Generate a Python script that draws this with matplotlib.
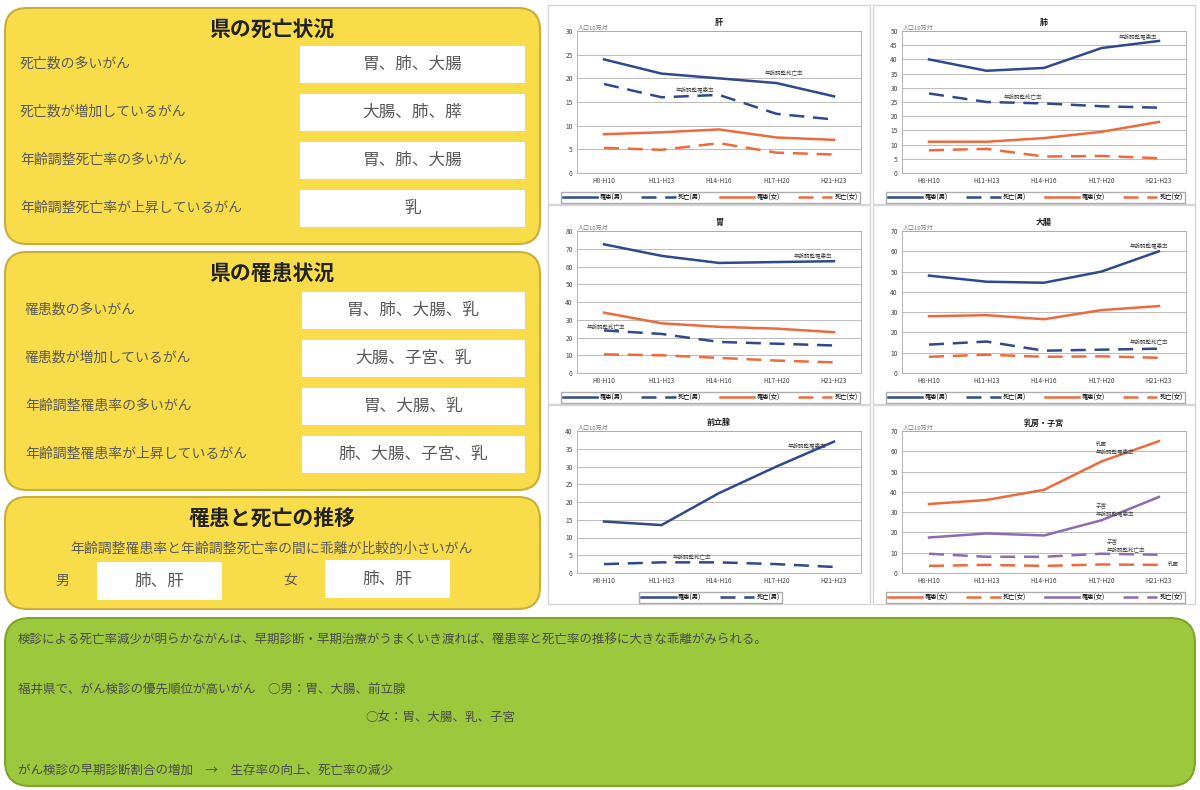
import matplotlib
matplotlib.use('Agg')
import matplotlib.pyplot as plt
from matplotlib.patches import FancyBboxPatch, Rectangle

plt.rcParams['font.family'] = ['Noto Sans CJK JP', 'DejaVu Sans']

# ---- data ----
periods = ['H8-H10', 'H11-H13', 'H14-H16', 'H17-H20', 'H21-H23']

liver_inc_m = [24, 21, 20, 19, 16.2]
liver_death_m = [18.8, 16, 16.5, 12.5, 11.3]
liver_inc_f = [8.2, 8.6, 9.2, 7.5, 7.0]
liver_death_f = [5.3, 4.9, 6.3, 4.3, 3.9]

lung_inc_m = [40, 36, 37, 44, 46.5]
lung_death_m = [28, 25, 24.5, 23.5, 23]
lung_inc_f = [11, 11, 12.3, 14.5, 18]
lung_death_f = [8, 8.5, 5.8, 6, 5.2]

stomach_inc_m = [72.5, 66, 62, 62.5, 63]
stomach_death_m = [24, 22, 17.5, 16.5, 15.5]
stomach_inc_f = [34, 28, 26, 25, 23]
stomach_death_f = [10.5, 10, 8.5, 7, 6]

colon_inc_m = [48, 45, 44.5, 50, 60]
colon_death_m = [14, 15.5, 11, 11.5, 12]
colon_inc_f = [28, 28.5, 26.5, 31, 33]
colon_death_f = [8, 9, 8, 8.2, 7.5]

prostate_inc_m = [14.5, 13.5, 22.5, 30, 37]
prostate_death_m = [2.5, 3, 3, 2.5, 1.7]

breast_inc_f = [34, 36, 41, 55, 65]
breast_death_f = [3.5, 4, 3.5, 4.2, 4]
uterus_inc_f = [17.5, 19.5, 18.5, 26, 37.5]
uterus_death_f = [9.5, 8, 8, 9.5, 9]

death_rows = [('死亡数の多いがん', '胃、肺、大腸'),
              ('死亡数が増加しているがん', '大腸、肺、膵'),
              ('年齢調整死亡率の多いがん', '胃、肺、大腸'),
              ('年齢調整死亡率が上昇しているがん', '乳')]
inc_rows = [('罹患数の多いがん', '胃、肺、大腸、乳'),
            ('罹患数が増加しているがん', '大腸、子宮、乳'),
            ('年齢調整罹患率の多いがん', '胃、大腸、乳'),
            ('年齢調整罹患率が上昇しているがん', '肺、大腸、子宮、乳')]

BLUE = '#2E4A8C'
ORANGE = '#EE6A3C'
PURPLE = '#8C6BB0'
YELLOW = '#F9DC4A'
YELLOW_EDGE = '#C9AE3A'
GREEN = '#9CC83E'
GREEN_EDGE = '#7FA42C'
TXT = '#5a5a5a'


def rounded(ax, x, y, w, h, fc, ec, r=22):
    ax.add_patch(FancyBboxPatch((x, y), w, h,
                                boxstyle=f'round,pad=0,rounding_size={r}',
                                fc=fc, ec=ec, lw=1.5))


def white_box(ax, x, y, w, h, text, size=12):
    ax.add_patch(Rectangle((x, y), w, h, fc='white', ec='none'))
    ax.text(x + w / 2, y + h / 2, text, ha='center', va='center',
            fontsize=size, color='#5a5a5a')


def draw_chart(fig, px, py, title, ymax, ystep, series, notes):
    W, H = 1200, 790
    left, right, top, bottom = px + 29, px + 313, py + 26, py + 168
    ax = fig.add_axes([left / W, 1 - bottom / H, (right - left) / W, (bottom - top) / H])
    x = list(range(len(periods)))
    for vals, color, ls, label in series:
        if ls == '--':
            ax.plot(x, vals, color=color, lw=1.8, dashes=(6, 3.5), label=label)
        else:
            ax.plot(x, vals, color=color, lw=1.8, label=label)
    ax.set_xlim(-0.47, 4.47)
    ax.set_ylim(0, ymax)
    ax.set_yticks(range(0, ymax + 1, ystep))
    ax.set_xticks(x)
    ax.set_xticklabels(periods)
    ax.tick_params(labelsize=4.8, length=0, colors='#444444', pad=3)
    ax.yaxis.grid(True, color='#BBBBBB', lw=0.7)
    ax.set_axisbelow(True)
    for s in ax.spines.values():
        s.set_color('#AAAAAA')
        s.set_linewidth(0.6)
    ax.set_title(title, fontsize=5.8, fontweight='bold', pad=4, color='#222222')
    ax.text(-0.45, ymax * 1.0, '人口10万対', fontsize=4.3, color='#777777', va='bottom')
    for nx, ny, txt in notes:
        ax.text(nx, ny, txt, fontsize=4, color='#444444', va='center', linespacing=1.4)
    ax.legend(loc='upper center', bbox_to_anchor=(0.47, -0.11), ncol=len(series),
              fontsize=4.5, frameon=True, fancybox=False, edgecolor='#999999',
              handlelength=5.5, columnspacing=2.9, borderpad=0.3, handletextpad=0.4)


fig = plt.figure(figsize=(12, 7.9), dpi=100)
bg = fig.add_axes([0, 0, 1, 1])
bg.set_xlim(0, 1200)
bg.set_ylim(790, 0)
bg.axis('off')

# ---- left column: yellow summary boxes ----
rounded(bg, 5, 8, 535, 236, YELLOW, YELLOW_EDGE)
bg.text(272, 30, '県の死亡状況', ha='center', va='center', fontsize=15, fontweight='bold', color='#222222')
for i, (lab, val) in enumerate(death_rows):
    yc = 64 + i * 48
    bg.text(20, yc, lab, ha='left', va='center', fontsize=10, color=TXT)
    white_box(bg, 300, yc - 18, 225, 37, val)

rounded(bg, 5, 252, 535, 238, YELLOW, YELLOW_EDGE)
bg.text(272, 273, '県の罹患状況', ha='center', va='center', fontsize=15, fontweight='bold', color='#222222')
for i, (lab, val) in enumerate(inc_rows):
    yc = 310 + i * 48
    bg.text(25, yc, lab, ha='left', va='center', fontsize=10, color=TXT)
    white_box(bg, 302, yc - 18, 223, 37, val)

rounded(bg, 5, 497, 535, 112, YELLOW, YELLOW_EDGE)
bg.text(272, 518, '罹患と死亡の推移', ha='center', va='center', fontsize=15, fontweight='bold', color='#222222')
bg.text(272, 549, '年齢調整罹患率と年齢調整死亡率の間に乖離が比較的小さいがん',
        ha='center', va='center', fontsize=10, color=TXT)
bg.text(62, 581, '男', ha='center', va='center', fontsize=10, color=TXT)
white_box(bg, 97, 562, 125, 38, '肺、肝')
bg.text(290, 580, '女', ha='center', va='center', fontsize=10, color=TXT)
white_box(bg, 325, 560, 125, 38, '肺、肝')

# ---- bottom green box ----
rounded(bg, 5, 618, 1190, 168, GREEN, GREEN_EDGE, r=25)
bg.text(18, 640, '検診による死亡率減少が明らかながんは、早期診断・早期治療がうまくいき渡れば、罹患率と死亡率の推移に大きな乖離がみられる。',
        ha='left', va='center', fontsize=9, color='#4a4a4a')
bg.text(18, 690, '福井県で、がん検診の優先順位が高いがん　○男：胃、大腸、前立腺',
        ha='left', va='center', fontsize=9, color='#4a4a4a')
bg.text(365, 718, '○女：胃、大腸、乳、子宮', ha='left', va='center', fontsize=9, color='#4a4a4a')
bg.text(18, 770, 'がん検診の早期診断割合の増加　→　生存率の向上、死亡率の減少',
        ha='left', va='center', fontsize=9, color='#4a4a4a')

# ---- chart panels ----
for px, py in [(548, 5), (873, 5), (548, 205), (873, 205), (548, 405), (873, 405)]:
    bg.add_patch(Rectangle((px, py), 322, 199, fc='white', ec='#D5D5D5', lw=1))

mf = ['罹患(男)', '死亡(男)', '罹患(女)', '死亡(女)']

draw_chart(fig, 548, 5, '肝', 30, 5,
           [(liver_inc_m, BLUE, '-', mf[0]), (liver_death_m, BLUE, '--', mf[1]),
            (liver_inc_f, ORANGE, '-', mf[2]), (liver_death_f, ORANGE, '--', mf[3])],
           [(2.8, 21.3, '年齢調整死亡率'), (1.25, 17.6, '年齢調整罹患率')])

draw_chart(fig, 873, 5, '肺', 50, 5,
           [(lung_inc_m, BLUE, '-', mf[0]), (lung_death_m, BLUE, '--', mf[1]),
            (lung_inc_f, ORANGE, '-', mf[2]), (lung_death_f, ORANGE, '--', mf[3])],
           [(3.3, 48, '年齢調整罹患率'), (1.3, 27, '年齢調整死亡率')])

draw_chart(fig, 548, 205, '胃', 80, 10,
           [(stomach_inc_m, BLUE, '-', mf[0]), (stomach_death_m, BLUE, '--', mf[1]),
            (stomach_inc_f, ORANGE, '-', mf[2]), (stomach_death_f, ORANGE, '--', mf[3])],
           [(3.3, 66, '年齢調整罹患率'), (-0.3, 26.5, '年齢調整死亡率')])

draw_chart(fig, 873, 205, '大腸', 70, 10,
           [(colon_inc_m, BLUE, '-', mf[0]), (colon_death_m, BLUE, '--', mf[1]),
            (colon_inc_f, ORANGE, '-', mf[2]), (colon_death_f, ORANGE, '--', mf[3])],
           [(3.5, 63, '年齢調整罹患率'), (3.5, 15.5, '年齢調整死亡率')])

draw_chart(fig, 548, 405, '前立腺', 40, 5,
           [(prostate_inc_m, BLUE, '-', mf[0]), (prostate_death_m, BLUE, '--', mf[1])],
           [(3.2, 36, '年齢調整罹患率'), (1.2, 4.8, '年齢調整死亡率')])

draw_chart(fig, 873, 405, '乳房・子宮', 70, 10,
           [(breast_inc_f, ORANGE, '-', mf[2]), (breast_death_f, ORANGE, '--', mf[3]),
            (uterus_inc_f, PURPLE, '-', mf[2]), (uterus_death_f, PURPLE, '--', mf[3])],
           [(2.9, 61.5, '乳房\n年齢調整罹患率'), (2.9, 31.5, '子宮\n年齢調整罹患率'),
            (3.1, 13.5, '子宮\n年齢調整死亡率'), (4.15, 4, '乳房')])

fig.savefig('out.png', dpi=100)
